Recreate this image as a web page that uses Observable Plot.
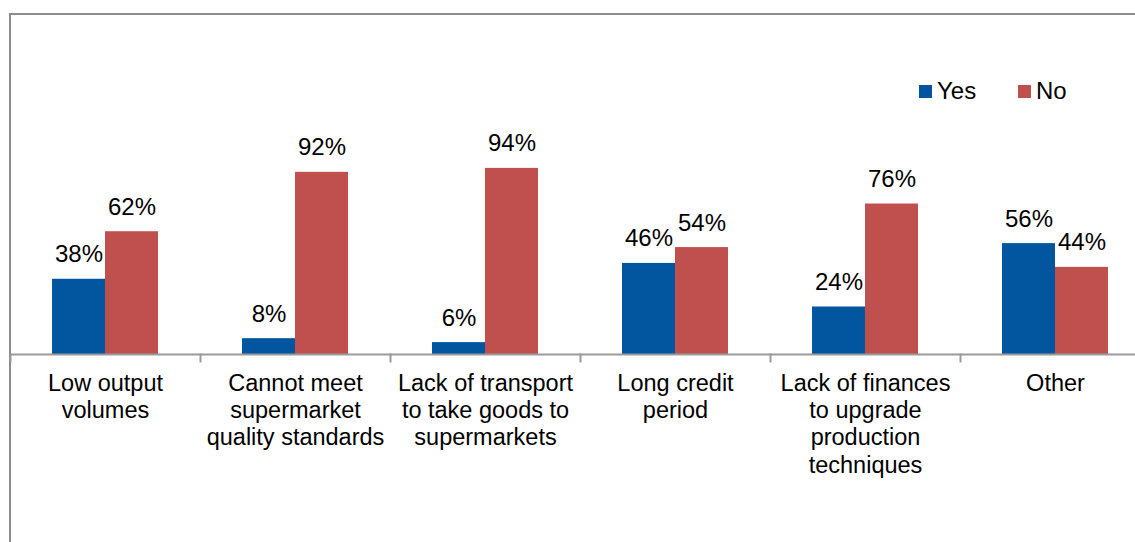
<!DOCTYPE html>
<html>
<head>
<meta charset="utf-8">
<script src="https://cdn.jsdelivr.net/npm/d3@7"></script>
<script src="https://cdn.jsdelivr.net/npm/@observablehq/plot@0.6"></script>
<style>
  html, body { margin: 0; padding: 0; background: #fff; }
  body { font-family: "Liberation Sans", Arial, sans-serif; }
  #wrap { position: relative; width: 1135px; height: 542px; overflow: hidden; }
  #border { position: absolute; left: 9px; top: 13px; width: 1300px; height: 700px;
            border-left: 2px solid #8c8c8c; border-top: 2px solid #8c8c8c; }
  #chart { position: absolute; left: 0; top: 0; }
  .lg { position: absolute; top: 78px; height: 26px; display: flex; align-items: center;
        font-size: 24px; color: #000; white-space: nowrap; }
  .lg .sw { width: 13px; height: 13px; margin-right: 5px; }
</style>
</head>
<body>
<div id="wrap">
  <div id="border"></div>
  <div id="chart"></div>
</div>
<script>
const categories = [
  "Low output volumes",
  "Cannot meet supermarket quality standards",
  "Lack of transport to take goods to supermarkets",
  "Long credit period",
  "Lack of finances to upgrade production techniques",
  "Other"
];
const categoryLabels = [
  "Low output\nvolumes",
  "Cannot meet\nsupermarket\nquality standards",
  "Lack of transport\nto take goods to\nsupermarkets",
  "Long credit\nperiod",
  "Lack of finances\nto upgrade\nproduction\ntechniques",
  "Other"
];
const seriesNames = ["Yes", "No"];
const seriesColors = ["#02559F", "#C0504D"];
const yesValues = [38, 8, 6, 46, 24, 56];
const noValues = [62, 92, 94, 54, 76, 44];

const rows = [];
categories.forEach((c, i) => {
  rows.push({category: c, series: "Yes", value: yesValues[i]});
  rows.push({category: c, series: "No", value: noValues[i]});
});
const labelOf = new Map(categories.map((c, i) => [c, categoryLabels[i]]));

const chart = Plot.plot({
  width: 1135,
  height: 542,
  marginLeft: 9,
  marginRight: -16,
  marginTop: 156,
  marginBottom: 188,
  style: {fontFamily: "'Liberation Sans', Arial, sans-serif", background: "transparent", overflow: "visible"},
  fx: {domain: categories, padding: 0, label: null},
  x: {domain: seriesNames, paddingInner: 0, paddingOuter: 0.76, axis: null},
  y: {domain: [0, 100], axis: null},
  color: {domain: seriesNames, range: seriesColors},
  marks: [
    Plot.barY(rows, {fx: "category", x: "series", y: "value", fill: "series"}),
    Plot.text(rows, {fx: "category", x: "series", y: "value",
      text: d => d.value + "%", lineAnchor: "bottom", dy: -17,
      fontSize: 24, fill: "#000"}),
    Plot.ruleY([0], {stroke: "#9a9a9a", strokeWidth: 2}),
    Plot.frame({anchor: "left", stroke: "#9a9a9a", strokeWidth: 2, insetTop: 198, insetBottom: -7}),
    Plot.axisFx({anchor: "bottom", tickSize: 0, tickPadding: 17, fontSize: 23.5, lineHeight: 1.16,
      tickFormat: d => labelOf.get(d), label: null, fill: "#000"})
  ]
});
document.getElementById("chart").appendChild(chart);

// legend
const legendLefts = [919, 1018];
seriesNames.forEach((s, i) => {
  const item = document.createElement("div");
  item.className = "lg";
  item.style.left = legendLefts[i] + "px";
  const sw = document.createElement("span");
  sw.className = "sw";
  sw.style.background = seriesColors[i];
  const tx = document.createElement("span");
  tx.textContent = s;
  item.appendChild(sw);
  item.appendChild(tx);
  document.getElementById("wrap").appendChild(item);
});
</script>
</body>
</html>
